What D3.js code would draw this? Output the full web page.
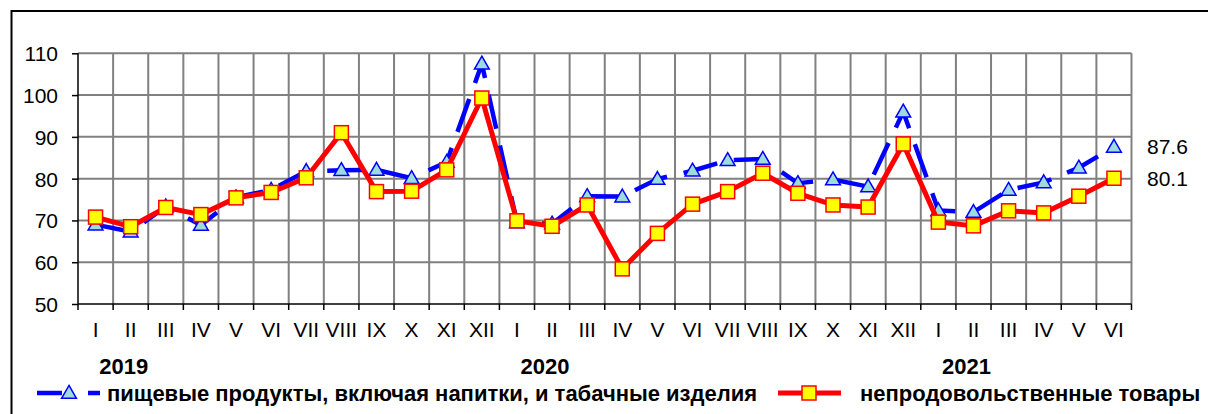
<!DOCTYPE html>
<html>
<head>
<meta charset="utf-8">
<script src="https://cdn.jsdelivr.net/npm/d3@7"></script>
<style>
  body { margin: 0; background: #fff; }
  svg { display: block; font-family: "Liberation Sans", Arial, sans-serif; }
  .grid line { stroke: #808080; stroke-width: 2; }
  .tick-label { font-size: 21px; fill: #000; }
  .year { font-size: 22px; font-weight: bold; }
  .legend-text { font-size: 22px; font-weight: bold; }
</style>
</head>
<body>
<div class="chart"></div>
<script>
// month labels (Jan 2019 .. Jun 2021)
const months = ["I", "II", "III", "IV", "V", "VI", "VII", "VIII", "IX", "X", "XI", "XII",
  "I", "II", "III", "IV", "V", "VI", "VII", "VIII", "IX", "X", "XI", "XII",
  "I", "II", "III", "IV", "V", "VI"];
const years = ["2019", "2020", "2021"];
const yTicks = [50, 60, 70, 80, 90, 100, 110];

// food products incl. drinks and tobacco
const food = [69.0, 67.3, 73.3, 68.9, 75.5, 77.3, 81.8, 82.0, 82.1, 80.1, 84.0, 107.5,
  69.5, 69.2, 75.8, 75.7, 79.9, 81.9, 84.4, 84.7, 78.9, 79.8, 78.1, 96.0,
  72.4, 72.0, 77.3, 79.1, 82.6, 87.6];
// non-food goods
const nonFood = [70.8, 68.5, 73.1, 71.4, 75.4, 76.7, 80.2, 91.0, 76.9, 77.0, 82.1, 99.3,
  69.9, 68.6, 73.7, 58.4, 66.9, 73.9, 76.9, 81.3, 76.5, 73.7, 73.2, 88.3,
  69.6, 68.7, 72.3, 71.8, 75.8, 80.1];

const foodName = "пищевые продукты, включая напитки, и табачные изделия";
const nonFoodName = "непродовольственные товары";

const width = 1208;
const height = 414;
const plot = { left: 78, right: 1131.5, top: 53.3, bottom: 304 };

const svg = d3.select(".chart")
  .append("svg")
  .attr("width", width)
  .attr("height", height);

// outer frame
svg.append("rect")
  .attr("x", 11.5)
  .attr("y", 11)
  .attr("width", 1300)
  .attr("height", 500)
  .attr("fill", "none")
  .attr("stroke", "#000")
  .attr("stroke-width", 2);

const idx = d3.range(months.length);

const xScale = d3.scaleBand()
  .domain(idx)
  .range([plot.left, plot.right])
  .padding(0);

const yScale = d3.scaleLinear()
  .domain([50, 110])
  .range([plot.bottom, plot.top]);

const cx = (i) => xScale(i) + xScale.bandwidth() / 2;

// grid
const grid = svg.append("g").attr("class", "grid");

grid.selectAll(".hgrid")
  .data(yTicks.filter((d) => d > 50))
  .enter()
  .append("line")
  .attr("x1", plot.left)
  .attr("x2", plot.right)
  .attr("y1", (d) => yScale(d))
  .attr("y2", (d) => yScale(d));

grid.selectAll(".vgrid")
  .data(idx.slice(1).concat([months.length]))
  .enter()
  .append("line")
  .attr("x1", (d) => plot.left + d * xScale.bandwidth())
  .attr("x2", (d) => plot.left + d * xScale.bandwidth())
  .attr("y1", plot.top)
  .attr("y2", plot.bottom);

// y axis
const yAxis = d3.axisLeft(yScale).tickValues(yTicks).tickSize(6).tickPadding(14);
const yAxisGroup = svg.append("g")
  .attr("transform", `translate(${plot.left}, 0)`)
  .call(yAxis);
yAxisGroup.select(".domain").attr("stroke", "#000").attr("stroke-width", 1.5).attr("d", `M0,${plot.bottom}V${plot.top}`);
yAxisGroup.selectAll(".tick line").attr("stroke", "#000").attr("stroke-width", 1.5);
yAxisGroup.selectAll(".tick text")
  .attr("class", "tick-label")
  .style("font-size", "21px")
  .attr("fill", "#000")
  .attr("dy", "0.36em");

// x axis: ticks at category boundaries
const xAxisGroup = svg.append("g")
  .attr("transform", `translate(0, ${plot.bottom})`);
xAxisGroup.append("line")
  .attr("x1", plot.left)
  .attr("x2", plot.right)
  .attr("stroke", "#000")
  .attr("stroke-width", 1.5);
xAxisGroup.selectAll(".xtick")
  .data(idx.concat([months.length]))
  .enter()
  .append("line")
  .attr("x1", (d) => plot.left + d * xScale.bandwidth())
  .attr("x2", (d) => plot.left + d * xScale.bandwidth())
  .attr("y1", 0)
  .attr("y2", 6)
  .attr("stroke", "#000")
  .attr("stroke-width", 1.5);
xAxisGroup.selectAll(".xlabel")
  .data(months)
  .enter()
  .append("text")
  .attr("class", "tick-label")
  .attr("x", (d, i) => cx(i))
  .attr("y", 33)
  .attr("text-anchor", "middle")
  .text((d) => d);

// year labels, under the second month of each year
svg.selectAll(".year")
  .data(years)
  .enter()
  .append("text")
  .attr("class", "year")
  .attr("x", (d, i) => xScale(i * 12 + 1) + xScale.bandwidth() * 0.3)
  .attr("y", 374)
  .attr("text-anchor", "middle")
  .text((d) => d);

const line = d3.line()
  .x((d, i) => cx(i))
  .y((d) => yScale(d));

const triangle = d3.symbol().type(d3.symbolTriangle).size(95);

// food series (blue dashed, triangles)
svg.append("path")
  .datum(food)
  .attr("d", line)
  .attr("fill", "none")
  .attr("stroke", "#0000ff")
  .attr("stroke-width", 4.5)
  .attr("stroke-dasharray", "35,17");

svg.selectAll(".tri")
  .data(food)
  .enter()
  .append("path")
  .attr("d", triangle)
  .attr("transform", (d, i) => `translate(${cx(i)}, ${yScale(d) + 1})`)
  .attr("fill", "#9edcdc")
  .attr("stroke", "#0000ff")
  .attr("stroke-width", 1.5);

// non-food series (red, squares)
svg.append("path")
  .datum(nonFood)
  .attr("d", line)
  .attr("fill", "none")
  .attr("stroke", "#ff0000")
  .attr("stroke-width", 5)
  .attr("stroke-linejoin", "round");

svg.selectAll(".sq")
  .data(nonFood)
  .enter()
  .append("rect")
  .attr("x", (d, i) => cx(i) - 7)
  .attr("y", (d) => yScale(d) - 7)
  .attr("width", 14)
  .attr("height", 14)
  .attr("fill", "#ffff00")
  .attr("stroke", "#ff0000")
  .attr("stroke-width", 1.5);

// last values on the right
svg.selectAll(".last")
  .data([food[food.length - 1], nonFood[nonFood.length - 1]])
  .enter()
  .append("text")
  .attr("class", "tick-label")
  .attr("x", 1147)
  .attr("y", (d) => yScale(d))
  .attr("dy", "0.36em")
  .text((d) => d.toFixed(1));

// legend
const legendY = 393;
const lg = svg.append("g");
lg.append("line")
  .attr("x1", 37).attr("x2", 100)
  .attr("y1", legendY).attr("y2", legendY)
  .attr("stroke", "#0000ff")
  .attr("stroke-width", 4.5)
  .attr("stroke-dasharray", "25,26");
lg.append("path")
  .attr("d", triangle)
  .attr("transform", `translate(69, ${legendY + 1})`)
  .attr("fill", "#9edcdc")
  .attr("stroke", "#0000ff")
  .attr("stroke-width", 1.5);
lg.append("text")
  .attr("class", "legend-text")
  .attr("x", 107)
  .attr("y", legendY)
  .attr("dy", "0.36em")
  .text(foodName);

lg.append("line")
  .attr("x1", 778).attr("x2", 841)
  .attr("y1", legendY).attr("y2", legendY)
  .attr("stroke", "#ff0000")
  .attr("stroke-width", 5);
lg.append("rect")
  .attr("x", 802).attr("y", legendY - 7)
  .attr("width", 14).attr("height", 14)
  .attr("fill", "#ffff00")
  .attr("stroke", "#ff0000")
  .attr("stroke-width", 1.5);
lg.append("text")
  .attr("class", "legend-text")
  .attr("x", 860)
  .attr("y", legendY)
  .attr("dy", "0.36em")
  .text(nonFoodName);
</script>
</body>
</html>
